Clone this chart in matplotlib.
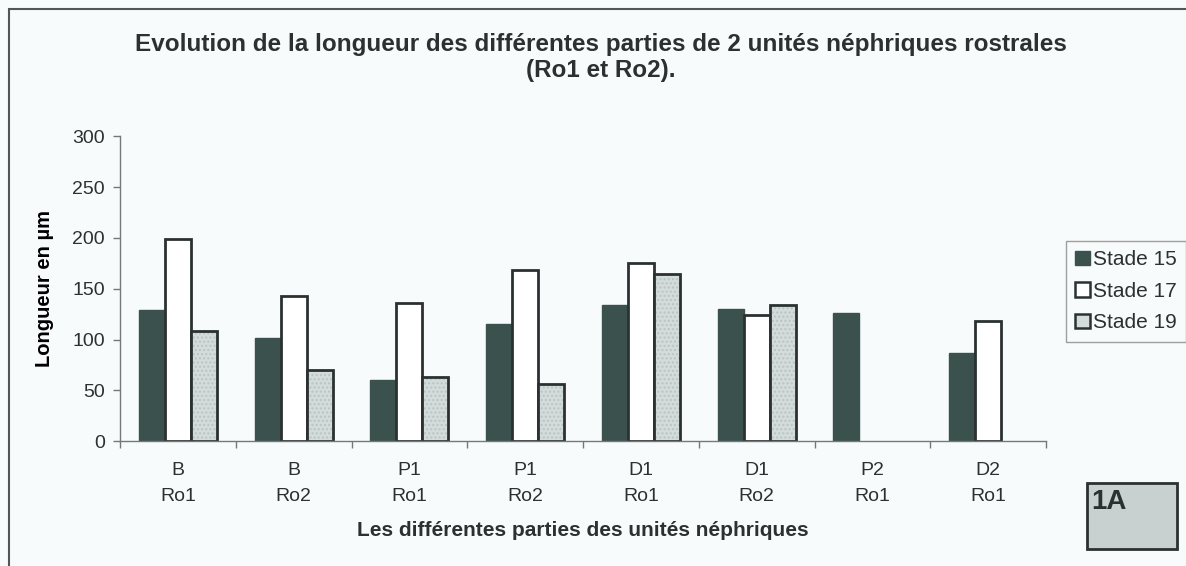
import numpy as np
import matplotlib
matplotlib.use("Agg")
import matplotlib.pyplot as plt
from matplotlib.patches import Rectangle

# Data: length (µm) of each nephric-unit part at three developmental stages
parts = ["B\nRo1", "B\nRo2", "P1\nRo1", "P1\nRo2", "D1\nRo1", "D1\nRo2", "P2\nRo1", "D2\nRo1"]
stade_15 = [129, 101, 60, 115, 134, 130, 126, 87]
stade_17 = [199, 143, 136, 168, 175, 124, np.nan, 118]
stade_19 = [108, 70, 63, 56, 165, 134, np.nan, np.nan]
series_names = ["Stade 15", "Stade 17", "Stade 19"]
y_ticks = [0, 50, 100, 150, 200, 250, 300]

BG = "#f8fbfb"
INK = "#2b3131"
DARK = "#3b514e"
LIGHT = "#d3dbdb"

plt.rcParams["font.family"] = ["Liberation Sans", "DejaVu Sans"]
plt.rcParams["text.color"] = INK

W, H, DPI = 1186, 566, 100
fig = plt.figure(figsize=(W / DPI, H / DPI), dpi=DPI, facecolor=BG)


def px_box(x0, y0, x1, y1):
    """Figure-fraction rectangle from pixel corners (top-left origin)."""
    return [x0 / W, 1 - y1 / H, (x1 - x0) / W, (y1 - y0) / H]


ax = fig.add_axes(px_box(120, 136.5, 1046, 441))
ax.set_facecolor(BG)

x = np.arange(len(parts))
bw = 0.225
edge_kw = dict(edgecolor=INK, linewidth=2.0)


def draw(values, offset, face, **extra):
    v = np.asarray(values, dtype=float)
    ok = ~np.isnan(v)
    return ax.bar(x[ok] + offset, v[ok], bw, color=face, **extra)


draw(stade_15, -bw, DARK, edgecolor=DARK, linewidth=1.0)
draw(stade_17, 0.0, "white", **edge_kw)
# dotted texture of the lightest series, then its outline
draw(stade_19, bw, LIGHT, edgecolor="#b9c4c4", linewidth=0, hatch="....")
draw(stade_19, bw, "none", **edge_kw)

ax.set_xlim(-0.5, len(parts) - 0.5)
ax.set_ylim(0, 300)
ax.set_yticks(y_ticks)
ax.tick_params(axis="y", length=5, width=1, color="#777777", labelsize=14,
               labelcolor=INK, pad=6)

ax.set_xticks(np.arange(-0.5, len(parts), 1.0))
ax.set_xticklabels([])
ax.tick_params(axis="x", which="major", length=5, width=1, color="#777777")
ax.set_xticks(x, minor=True)
ax.set_xticklabels(parts, minor=True, fontsize=14, linespacing=1.7)
ax.tick_params(axis="x", which="minor", length=0, pad=15, labelcolor=INK)

for s in ("top", "right"):
    ax.spines[s].set_visible(False)
for s in ("left", "bottom"):
    ax.spines[s].set_color("#777777")
    ax.spines[s].set_linewidth(1.0)

ax.set_ylabel("Longueur en µm", fontsize=14.5, fontweight="bold")
ax.yaxis.set_label_coords(-66 / 926, 0.5)

fig.text(582.5 / W, 1 - 531 / H, "Les différentes parties des unités néphriques",
         ha="center", va="center", fontsize=15, fontweight="bold")

fig.text(600.5 / W, 1 - 57.5 / H,
         "Evolution de la longueur des différentes parties de 2 unités néphriques rostrales\n(Ro1 et Ro2).",
         ha="center", va="center", fontsize=17.5, fontweight="bold", linespacing=1.22)

# legend
handles = [
    Rectangle((0, 0), 1, 1, facecolor=DARK, edgecolor=DARK, linewidth=1.0),
    Rectangle((0, 0), 1, 1, facecolor="white", edgecolor=INK, linewidth=1.8),
    Rectangle((0, 0), 1, 1, facecolor=LIGHT, edgecolor=INK, linewidth=1.8),
]
leg = fig.legend(handles, series_names, loc="upper left",
                 bbox_to_anchor=(1066 / W, 1 - 241 / H), fontsize=15,
                 frameon=True, fancybox=False, handlelength=0.7, handleheight=0.7,
                 handletextpad=0.15, labelspacing=0.6, borderpad=0.45,
                 borderaxespad=0.0)
leg.get_frame().set_facecolor(BG)
leg.get_frame().set_edgecolor("#888888")
leg.get_frame().set_linewidth(1.0)

# outer frame of the figure
fig.patches.append(Rectangle((8.5 / W, -0.1), 1.2, 1 - 8.5 / H + 0.1,
                             transform=fig.transFigure, facecolor="none",
                             edgecolor="#555555", linewidth=1.5))

# panel tag
fig.patches.append(Rectangle((1087 / W, 1 - 549 / H), 90 / W, 66 / H,
                             transform=fig.transFigure, facecolor="#c9d0d0",
                             edgecolor=INK, linewidth=2.0))
fig.text(1091 / W, 1 - 502 / H, "1A", ha="left", va="center",
         fontsize=20, fontweight="bold")

fig.savefig("out.png", dpi=DPI, facecolor=BG)
